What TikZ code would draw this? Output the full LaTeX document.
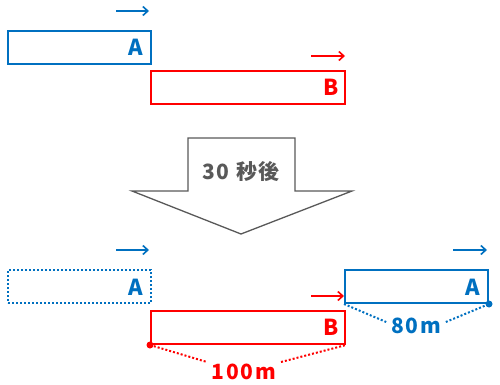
\documentclass[tikz,border=0pt]{standalone}
\usepackage{fontspec}
\setmainfont{Noto Sans CJK JP}
\newfontfamily\spaced[LetterSpace=8]{Noto Sans CJK JP}
\usetikzlibrary{arrows.meta}
\definecolor{cblue}{HTML}{0070C0}
\definecolor{cred}{HTML}{FF0000}
\definecolor{cgray}{HTML}{595959}
\begin{document}
\begin{tikzpicture}[x=1pt,y=-1pt,
  box/.style={draw,line width=2pt,minimum width=#1,minimum height=33pt,inner sep=0pt,anchor=north west},
  lbl/.style={font=\fontsize{22}{22}\selectfont\bfseries,anchor=east,inner sep=0pt},
  mv/.style={line width=2pt,-{Straight Barb[length=5pt,width=9pt,line width=1.6pt]}},
  dist/.style={line width=2pt,dotted},
  dst/.style={font=\spaced\fontsize{21}{21}\selectfont\bfseries,inner sep=1pt,outer sep=4pt}]
\useasboundingbox (0,0) rectangle (500,385);
% top
\node[box=143pt,cblue] (a1) at (7,30) {};
\node[lbl,cblue] (a1l) at (143,47) {A};
\coordinate (a1s) at (116,11);
\coordinate (a1e) at (149,11);
\draw[mv,cblue] (a1s) -- (a1e);
\node[box=194pt,cred] (b1) at (150,70) {};
\node[lbl,cred] (b1l) at (339,87) {B};
\coordinate (b1s) at (311,56);
\coordinate (b1e) at (345,56);
\draw[mv,cred] (b1s) -- (b1e);
% big arrow
\draw[cgray,line width=1.3pt,fill=white] (188,138) -- (295,138) -- (295,191) -- (352,191) -- (241,234) -- (132,191) -- (188,191) -- cycle;
\node[cgray,font=\spaced\fontsize{21}{21}\selectfont\bfseries] (t) at (241,172) {30 秒後};
% bottom
\node[box=143pt,cblue,dotted] (a0) at (7,269) {};
\node[lbl,cblue] (a0l) at (143,287) {A};
\coordinate (a0s) at (116,250);
\coordinate (a0e) at (149,250);
\draw[mv,cblue] (a0s) -- (a0e);
\node[box=143pt,cblue] (a2) at (344,269) {};
\node[lbl,cblue] (a2l) at (480,287) {A};
\coordinate (a2s) at (453,250);
\coordinate (a2e) at (487,250);
\draw[mv,cblue] (a2s) -- (a2e);
\node[box=194pt,cred] (b2) at (150,310) {};
\node[lbl,cred] (b2l) at (339,327) {B};
\coordinate (b2s) at (311,296);
\draw[mv,cred] (b2s) -- (a2.west |- b2s);
% distances
\node[dst,cred] (d100) at (244,372) {100m};
\fill[cred] (b2.south west) circle (3.5pt);
\draw[dist,cred] (b2.south west) -- (d100.west |- 0,362);
\draw[dist,cred] (d100.east |- 0,362) -- (b2.south east);
\node[dst,cblue] (d80) at (416,326) {80m};
\fill[cblue] (a2.south east) circle (3.5pt);
\draw[dist,cblue] (a2.south west) -- (d80.west |- 0,322);
\draw[dist,cblue] (d80.east |- 0,322) -- (a2.south east);
\end{tikzpicture}
\end{document}
